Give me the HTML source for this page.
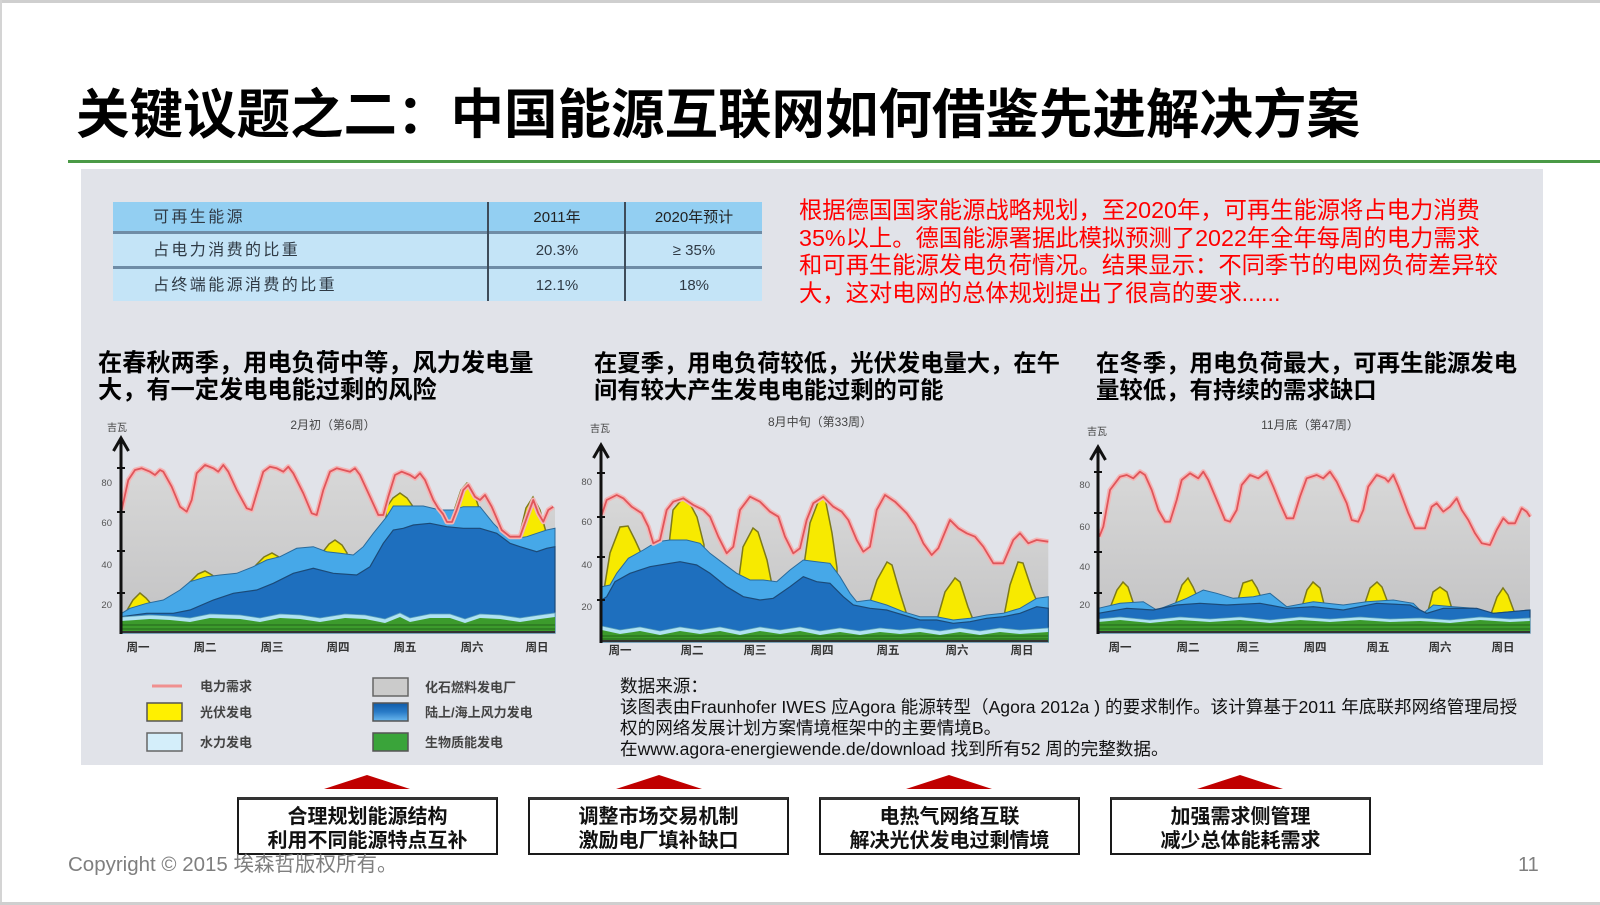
<!DOCTYPE html>
<html><head><meta charset="utf-8">
<style>
*{margin:0;padding:0;box-sizing:border-box}
body{width:1600px;height:905px;position:relative;overflow:hidden;background:#fff;font-family:"Liberation Sans","Noto Sans CJK SC",sans-serif}
.a{position:absolute;white-space:nowrap}
.box{position:absolute;top:797px;width:261px;height:58px;background:#fff;border:2px solid #1a1a1a;border-top:3px solid #333;text-align:center;font-weight:bold;font-size:20px;line-height:24px;color:#111;padding-top:5px}
.tri{position:absolute;top:775px;width:0;height:0;border-left:43px solid transparent;border-right:43px solid transparent;border-bottom:14px solid #c00000}
</style></head><body>
<div class="a" style="left:0;top:0;width:1600px;height:3px;background:#cfcfcf"></div>
<div class="a" style="left:0;top:0;width:2px;height:905px;background:#d4d4d4"></div>
<div class="a" style="left:0;top:902px;width:1600px;height:3px;background:#cfcfcf"></div>

<div class="a" style="left:76px;top:86px;font-size:53.5px;line-height:60px;font-weight:bold;color:#000">关键议题之二：中国能源互联网如何借鉴先进解决方案</div>
<div class="a" style="left:68px;top:160px;width:1532px;height:3px;background:#4a9a46"></div>

<div class="a" style="left:81px;top:169px;width:1462px;height:596px;background:#e1e3e9"></div>

<!-- table -->
<div class="a" style="left:113px;top:202px;width:649px;height:99px;background:#c4e4f7"></div>
<div class="a" style="left:113px;top:202px;width:649px;height:30px;background:#93cff2"></div>
<div class="a" style="left:113px;top:231px;width:649px;height:3px;background:#6f8ca6"></div>
<div class="a" style="left:113px;top:266px;width:649px;height:3px;background:#6f8ca6"></div>
<div class="a" style="left:487px;top:202px;width:2px;height:99px;background:#3e4c5a"></div>
<div class="a" style="left:624px;top:202px;width:2px;height:99px;background:#3e4c5a"></div>
<div class="a" style="left:153px;top:207px;font-size:16px;line-height:22px;color:#2f3a45;letter-spacing:2.4px">可再生能源</div>
<div class="a" style="left:153px;top:240px;font-size:16px;line-height:22px;color:#2f3a45;letter-spacing:2.4px">占电力消费的比重</div>
<div class="a" style="left:153px;top:275px;font-size:16px;line-height:22px;color:#2f3a45;letter-spacing:2.4px">占终端能源消费的比重</div>
<div class="a" style="left:489px;top:207px;width:136px;text-align:center;font-size:15px;line-height:22px;color:#222">2011年</div>
<div class="a" style="left:626px;top:207px;width:136px;text-align:center;font-size:15px;line-height:22px;color:#222">2020年预计</div>
<div class="a" style="left:489px;top:240px;width:136px;text-align:center;font-size:15px;line-height:22px;color:#2f3a45">20.3%</div>
<div class="a" style="left:626px;top:240px;width:136px;text-align:center;font-size:15px;line-height:22px;color:#2f3a45">≥ 35%</div>
<div class="a" style="left:489px;top:275px;width:136px;text-align:center;font-size:15px;line-height:22px;color:#2f3a45">12.1%</div>
<div class="a" style="left:626px;top:275px;width:136px;text-align:center;font-size:15px;line-height:22px;color:#2f3a45">18%</div>

<!-- red text -->
<div class="a" style="left:799px;top:197px;font-size:23.3px;line-height:27.7px;color:#f00">根据德国国家能源战略规划，至2020年，可再生能源将占电力消费<br>35%以上。德国能源署据此模拟预测了2022年全年每周的电力需求<br>和可再生能源发电负荷情况。结果显示：不同季节的电网负荷差异较<br>大，这对电网的总体规划提出了很高的要求......</div>

<!-- headings -->
<div class="a" style="left:98px;top:350px;font-size:24.2px;line-height:27px;font-weight:bold;color:#000">在春秋两季，用电负荷中等，风力发电量<br>大，有一定发电电能过剩的风险</div>
<div class="a" style="left:594px;top:350px;font-size:23.3px;line-height:27px;font-weight:bold;color:#000">在夏季，用电负荷较低，光伏发电量大，在午<br>间有较大产生发电电能过剩的可能</div>
<div class="a" style="left:1096px;top:350px;font-size:23.4px;line-height:27px;font-weight:bold;color:#000">在冬季，用电负荷最大，可再生能源发电<br>量较低，有持续的需求缺口</div>

<svg class="a" style="left:0;top:0" width="1600" height="905" viewBox="0 0 1600 905">
<defs>
<linearGradient id="gg" x1="0" y1="0" x2="0" y2="1"><stop offset="0" stop-color="#d8d8d8"/><stop offset="1" stop-color="#c2c2c3"/></linearGradient>
<linearGradient id="wb" x1="0" y1="0" x2="0" y2="1"><stop offset="0" stop-color="#0f5aa8"/><stop offset="0.5" stop-color="#2a7cc8"/><stop offset="1" stop-color="#6ab8ee"/></linearGradient>
</defs>
<g font-family="Liberation Sans, Noto Sans CJK SC, sans-serif">
<!-- ===== Chart 1 ===== -->
<polygon fill="url(#gg)" points="121.7,510 128.3,480 135,470 141.7,468.3 150,471.7 155,475 160,470 163.3,471.7 171.7,486.7 180,506.7 186.7,511.7 191.7,500 196.7,473.3 205,465 213.3,468.3 218.3,471.7 223.3,465 228.3,471.7 236.7,490 246.7,508.3 251.7,510 256.7,493.3 263.3,471.7 270,466.7 276.7,468.3 283.3,471.7 288.3,466.7 293.3,473.3 303.3,493.3 311.7,513.3 316.7,515 323.3,490 330,471.7 336.7,468.3 343.3,470 350,471.7 355,468.3 360,475 370,496.7 378.3,515 383.3,515 388.3,496.7 395,475 401.7,471.7 410,475 415,478.3 420,473.3 425,480 433.3,500 438.3,508.3 443,514 447,522 452,522 456.7,510 463.3,490 468.3,485 475,496.7 480,500 485,495 491.7,506.7 501.7,530 510,536.7 520,536.7 528.3,513.3 533.3,500 538.3,513.3 543.3,521.7 548.3,510 553.3,506.7 555,507 555,633 121.7,633"/>
<g fill="#f7ea00" stroke="#7d7a1a" stroke-width="1.5">
<polygon points="126,612 133,600 140,593 146,598 153,606 153,625 126,625"/>
<polygon points="190,582 198,574 205,571 212,575 218,580 218,600 190,600"/>
<polygon points="256,565 264,557 272,553 279,557 284,562 284,590 256,590"/>
<polygon points="322,553 329,544 335,540 342,545 347,553 347,580 322,580"/>
<polygon points="386,508 393,498 400,493 407,498 414,508 414,530 386,530"/>
<polygon points="455,508 461,490 467,483 473,490 479,508 479,530 455,530"/>
<polygon points="519,537 526,508 533,497 540,510 546,532 546,555 519,555"/>
</g>
<polygon fill="#46a8e8" stroke="#2a6a9a" stroke-width="1" points="121.7,613.3 130,608.3 146.7,603.3 163.3,600 180,590 190,581.7 206.7,576.7 220,575 236.7,573.3 253.3,566.7 266.7,560 280,556.7 296.7,548.3 313.3,546.7 326.7,551.7 340,553.3 353.3,555 363.3,546.7 373.3,533.3 386.7,516.7 393.3,506 406.7,506 423.3,506 440,510 453.3,510 463.3,506.7 480,506.7 493.3,523.3 503.3,533.3 516.7,538.3 526.7,536.7 536.7,533.3 546.7,530 555,528.3 555,633 121.7,633"/>
<polygon fill="#1e6fbe" stroke="#1b4a78" stroke-width="1.2" points="121.7,616.7 146.7,613.3 173.3,613.3 190,610 213.3,600 233.3,593.3 256.7,590 273.3,583.3 293.3,573.3 313.3,568.3 333.3,573.3 356.7,575 370,566.7 383.3,543.3 393.3,530 403.3,528.3 413.3,525 430,523.3 446.7,526.7 463.3,528.3 480,528.3 496.7,533.3 510,543.3 520,546.7 536.7,551.7 546.7,548.3 555,546.7 555,633 121.7,633"/>
<polygon fill="#b0e2f2" stroke="#5aa0b8" stroke-width="0.8" points="121.7,617 150,615 170,616 190,618 210,614 240,615 260,618 280,614 300,615 320,618 345,614 365,615 385,619 400,613 410,618 430,614 450,614 465,619 480,614 500,615 520,618 540,615 555,613 555,633 121.7,633"/>
<polygon fill="#3c9b2c" points="121.7,621 150,619 170,620 190,622 210,618 240,619 260,622 280,618 300,619 320,622 345,618 365,619 385,623 400,617 410,622 430,618 450,618 465,623 480,618 500,619 520,622 540,619 555,617 555,633 121.7,633"/>
<g stroke="#24661b" stroke-width="1"><line x1="122" y1="625" x2="555" y2="625"/><line x1="122" y1="629" x2="555" y2="629"/></g>
<polyline fill="none" stroke="#f4b5b5" stroke-width="5" stroke-linejoin="round" points="121.7,510 128.3,480 135,470 141.7,468.3 150,471.7 155,475 160,470 163.3,471.7 171.7,486.7 180,506.7 186.7,511.7 191.7,500 196.7,473.3 205,465 213.3,468.3 218.3,471.7 223.3,465 228.3,471.7 236.7,490 246.7,508.3 251.7,510 256.7,493.3 263.3,471.7 270,466.7 276.7,468.3 283.3,471.7 288.3,466.7 293.3,473.3 303.3,493.3 311.7,513.3 316.7,515 323.3,490 330,471.7 336.7,468.3 343.3,470 350,471.7 355,468.3 360,475 370,496.7 378.3,515 383.3,515 388.3,496.7 395,475 401.7,471.7 410,475 415,478.3 420,473.3 425,480 433.3,500 438.3,508.3 443,514 447,522 452,522 456.7,510 463.3,490 468.3,485 475,496.7 480,500 485,495 491.7,506.7 501.7,530 510,536.7 520,536.7 528.3,513.3 533.3,500 538.3,513.3 543.3,521.7 548.3,510 553.3,506.7"/>
<polyline fill="none" stroke="#e0555a" stroke-width="1.8" stroke-linejoin="round" points="121.7,510 128.3,480 135,470 141.7,468.3 150,471.7 155,475 160,470 163.3,471.7 171.7,486.7 180,506.7 186.7,511.7 191.7,500 196.7,473.3 205,465 213.3,468.3 218.3,471.7 223.3,465 228.3,471.7 236.7,490 246.7,508.3 251.7,510 256.7,493.3 263.3,471.7 270,466.7 276.7,468.3 283.3,471.7 288.3,466.7 293.3,473.3 303.3,493.3 311.7,513.3 316.7,515 323.3,490 330,471.7 336.7,468.3 343.3,470 350,471.7 355,468.3 360,475 370,496.7 378.3,515 383.3,515 388.3,496.7 395,475 401.7,471.7 410,475 415,478.3 420,473.3 425,480 433.3,500 438.3,508.3 443,514 447,522 452,522 456.7,510 463.3,490 468.3,485 475,496.7 480,500 485,495 491.7,506.7 501.7,530 510,536.7 520,536.7 528.3,513.3 533.3,500 538.3,513.3 543.3,521.7 548.3,510 553.3,506.7"/>
<line x1="121" y1="632" x2="555" y2="632" stroke="#333" stroke-width="2"/>
<line x1="121" y1="634" x2="121" y2="440" stroke="#111" stroke-width="3"/>
<polyline points="113.5,451 121,438 128.5,451" fill="none" stroke="#111" stroke-width="3"/>
<g stroke="#111" stroke-width="2"><line x1="117" y1="468" x2="125" y2="468"/><line x1="117" y1="512" x2="125" y2="512"/><line x1="117" y1="551" x2="125" y2="551"/><line x1="117" y1="593" x2="125" y2="593"/></g>
<g font-size="9.5" fill="#555" text-anchor="end"><text x="112" y="486">80</text><text x="112" y="526">60</text><text x="112" y="568">40</text><text x="112" y="608">20</text></g>
<text x="107" y="431" font-size="10" fill="#444">吉瓦</text>
<text x="333" y="429" font-size="12" fill="#444" text-anchor="middle">2月初（第6周）</text>
<g font-size="11.5" fill="#333" text-anchor="middle" font-weight="bold"><text x="138" y="651">周一</text><text x="205" y="651">周二</text><text x="272" y="651">周三</text><text x="338" y="651">周四</text><text x="405" y="651">周五</text><text x="472" y="651">周六</text><text x="537" y="651">周日</text></g>

<!-- ===== Chart 2 ===== -->
<polygon fill="url(#gg)" points="601.7,515 606.7,500 616.7,495 623.3,498.3 631.7,506.7 641.7,513.3 648.3,526.7 653.3,543.3 660,540 666.7,510 673.3,501.7 683.3,498.3 693.3,505 703.3,510 710,516.7 718.3,536.7 726.7,553.3 733.3,546.7 740,510 750,496.7 760,501.7 770,511.7 778.3,516.7 785,536.7 793.3,553.3 800,548.3 806.7,520 813.3,503.3 823.3,496.7 833.3,506.7 841.7,511.7 848.3,520 856.7,540 863.3,551.7 870,546.7 876.7,510 885,495 895,501.7 906.7,513.3 915,525 923.3,543.3 931.7,555 938.3,548.3 950,520 958.3,528.3 966.7,533.3 975,536.7 983.3,546.7 993.3,563.3 1003.3,563.3 1013.3,540 1020,533.3 1028.3,543.3 1036.7,540 1048.3,541.7 1048.3,642 601.7,642"/>
<g fill="#f7ea00" stroke="#7d7a1a" stroke-width="1.5">
<polygon points="604,590 610,553 620,527 628,526 635,540 641,553 641,600 604,600"/>
<polygon points="669,545 673,510 683,498 688,500 697,517 704,545 704,570 669,570"/>
<polygon points="738,585 743,547 753,528 758,532 767,560 772,585 772,600 738,600"/>
<polygon points="804,565 810,523 820,497 825,498 832,533 837,568 837,590 804,590"/>
<polygon points="869,605 877,580 887,562 892,565 900,593 906,612 906,625 869,625"/>
<polygon points="937,620 945,592 955,578 960,582 968,607 974,622 974,635 937,635"/>
<polygon points="1004,616 1010,585 1018,562 1023,563 1032,590 1039,606 1039,625 1004,625"/>
</g>
<polygon fill="#46a8e8" stroke="#2a6a9a" stroke-width="1" points="601.7,586.7 610,585 616.7,573.3 628.3,558.3 643.3,550 656.7,541.7 670,540 686.7,540 700,543.3 710,553.3 723.3,563.3 736.7,573.3 750,580 763.3,580 776.7,581.7 790,570 803.3,560 816.7,561.7 830,563.3 840,576.7 850,593.3 856.7,601.7 870,600 886.7,605 903.3,611.7 920,616.7 936.7,616.7 953.3,620 970,618.3 986.7,615 1003.3,613.3 1020,608.3 1036.7,598.3 1048.3,596.7 1048.3,642 601.7,642"/>
<polygon fill="#1e6fbe" stroke="#1b4a78" stroke-width="1.2" points="601.7,600 606.7,596.7 615,581.7 630,573.3 650,566.7 670,563.3 680,561.7 696.7,565 710,573.3 726.7,586.7 743.3,596.7 760,600 773.3,598.3 790,586.7 803.3,576.7 816.7,581.7 830,583.3 843.3,596.7 853.3,605 870,608.3 886.7,610 903.3,615 920,620 936.7,620 953.3,623.3 970,621.7 986.7,618.3 1003.3,616.7 1020,613.3 1036.7,606.7 1048.3,608.3 1048.3,642 601.7,642"/>
<polygon fill="#b0e2f2" stroke="#5aa0b8" stroke-width="0.8" points="601.7,626 620,630 640,627 660,631 680,627 700,630 720,627 740,631 760,627 780,630 800,627 820,631 840,628 860,631 880,628 900,630 920,628 940,631 960,628 980,631 1000,628 1020,630 1048.3,628 1048.3,642 601.7,642"/>
<polygon fill="#3c9b2c" points="601.7,630 620,634 640,631 660,635 680,631 700,634 720,631 740,635 760,631 780,634 800,631 820,635 840,632 860,635 880,632 900,634 920,632 940,635 960,632 980,635 1000,632 1020,634 1048.3,632 1048.3,642 601.7,642"/>
<g stroke="#24661b" stroke-width="1"><line x1="602" y1="636" x2="1048" y2="636"/><line x1="602" y1="639" x2="1048" y2="639"/></g>
<polyline fill="none" stroke="#f4b5b5" stroke-width="5" stroke-linejoin="round" points="601.7,515 606.7,500 616.7,495 623.3,498.3 631.7,506.7 641.7,513.3 648.3,526.7 653.3,543.3 660,540 666.7,510 673.3,501.7 683.3,498.3 693.3,505 703.3,510 710,516.7 718.3,536.7 726.7,553.3 733.3,546.7 740,510 750,496.7 760,501.7 770,511.7 778.3,516.7 785,536.7 793.3,553.3 800,548.3 806.7,520 813.3,503.3 823.3,496.7 833.3,506.7 841.7,511.7 848.3,520 856.7,540 863.3,551.7 870,546.7 876.7,510 885,495 895,501.7 906.7,513.3 915,525 923.3,543.3 931.7,555 938.3,548.3 950,520 958.3,528.3 966.7,533.3 975,536.7 983.3,546.7 993.3,563.3 1003.3,563.3 1013.3,540 1020,533.3 1028.3,543.3 1036.7,540 1048.3,541.7"/>
<polyline fill="none" stroke="#e0555a" stroke-width="1.8" stroke-linejoin="round" points="601.7,515 606.7,500 616.7,495 623.3,498.3 631.7,506.7 641.7,513.3 648.3,526.7 653.3,543.3 660,540 666.7,510 673.3,501.7 683.3,498.3 693.3,505 703.3,510 710,516.7 718.3,536.7 726.7,553.3 733.3,546.7 740,510 750,496.7 760,501.7 770,511.7 778.3,516.7 785,536.7 793.3,553.3 800,548.3 806.7,520 813.3,503.3 823.3,496.7 833.3,506.7 841.7,511.7 848.3,520 856.7,540 863.3,551.7 870,546.7 876.7,510 885,495 895,501.7 906.7,513.3 915,525 923.3,543.3 931.7,555 938.3,548.3 950,520 958.3,528.3 966.7,533.3 975,536.7 983.3,546.7 993.3,563.3 1003.3,563.3 1013.3,540 1020,533.3 1028.3,543.3 1036.7,540 1048.3,541.7"/>
<line x1="601" y1="641" x2="1048" y2="641" stroke="#333" stroke-width="2"/>
<line x1="601" y1="643" x2="601" y2="447" stroke="#111" stroke-width="3"/>
<polyline points="593.5,458 601,445 608.5,458" fill="none" stroke="#111" stroke-width="3"/>
<g stroke="#111" stroke-width="2"><line x1="597" y1="473" x2="605" y2="473"/><line x1="597" y1="517" x2="605" y2="517"/><line x1="597" y1="557" x2="605" y2="557"/><line x1="597" y1="600" x2="605" y2="600"/></g>
<g font-size="9.5" fill="#555" text-anchor="end"><text x="592" y="485">80</text><text x="592" y="525">60</text><text x="592" y="568">40</text><text x="592" y="610">20</text></g>
<text x="590" y="432" font-size="10" fill="#444">吉瓦</text>
<text x="820" y="426" font-size="12" fill="#444" text-anchor="middle">8月中旬（第33周）</text>
<g font-size="11.5" fill="#333" text-anchor="middle" font-weight="bold"><text x="620" y="654">周一</text><text x="692" y="654">周二</text><text x="755" y="654">周三</text><text x="822" y="654">周四</text><text x="888" y="654">周五</text><text x="957" y="654">周六</text><text x="1022" y="654">周日</text></g>

<!-- ===== Chart 3 ===== -->
<polygon fill="url(#gg)" points="1098.3,538 1099.3,536.7 1103.3,526.7 1110,490 1120,476.7 1126.7,475 1133.3,478.3 1140,471.7 1145,475 1151.7,490 1158.3,510 1165,521.7 1170,521.7 1176.7,500 1181.7,480 1190,473.3 1198.3,478.3 1203.3,471.7 1208.3,480 1216.7,500 1225,520 1230,521.7 1236.7,510 1241.7,485 1250,475 1258.3,478.3 1266.7,471.7 1273.3,486.7 1280,503.3 1286.7,518.3 1293.3,518.3 1300,496.7 1306.7,478.3 1316.7,475 1323.3,478.3 1330,471.7 1336.7,481.7 1346.7,503.3 1351.7,520 1358.3,521.7 1363.3,510 1368.3,486.7 1376.7,475 1385,478.3 1388.3,481.7 1393.3,475 1398.3,486.7 1408.3,513.3 1415,528.3 1425,528.3 1431.7,506.7 1436.7,503.3 1443.3,511.7 1450,506.7 1456.7,498.3 1461.7,510 1468.3,520 1475,533.3 1481.7,543.3 1490,545 1496.7,530 1503.3,518.3 1508.3,523.3 1515,523.3 1521.7,508.3 1526.7,511.7 1530,516.7 1530,633 1098.3,633"/>
<g fill="#f7ea00" stroke="#7d7a1a" stroke-width="1.5">
<polygon points="1110,608 1117,590 1123,582 1128,587 1135,608 1135,620 1110,620"/>
<polygon points="1175,605 1182,585 1188,578 1193,587 1200,603 1200,615 1175,615"/>
<polygon points="1238,600 1243,583 1252,580 1257,588 1262,600 1262,612 1238,612"/>
<polygon points="1301,610 1307,590 1313,582 1320,588 1325,608 1325,620 1301,620"/>
<polygon points="1365,603 1370,588 1377,582 1382,587 1388,603 1388,615 1365,615"/>
<polygon points="1428,611 1433,592 1440,587 1447,592 1452,609 1452,620 1428,620"/>
<polygon points="1491,614 1497,597 1503,588 1508,595 1515,614 1515,622 1491,622"/>
</g>
<polygon fill="#46a8e8" stroke="#2a6a9a" stroke-width="1" points="1098.3,608.3 1120,603.3 1143.3,601.7 1156.7,610 1170,605 1186.7,598.3 1203.3,590 1216.7,593.3 1233.3,598.3 1253.3,596.7 1270,593.3 1286.7,606.7 1313.3,601.7 1343.3,605 1366.7,601.7 1393.3,600 1413.3,603.3 1423.3,613.3 1433.3,605 1453.3,606.7 1473.3,608.3 1493.3,613.3 1530,610 1530,633 1098.3,633"/>
<polygon fill="#1e6fbe" stroke="#1b4a78" stroke-width="1.2" points="1098.3,613.3 1126.7,608.3 1153.3,610 1176.7,605 1200,603.3 1226.7,605 1260,603.3 1286.7,608.3 1313.3,606.7 1343.3,610 1376.7,603.3 1410,605 1426.7,613.3 1443.3,608.3 1476.7,608.3 1493.3,613.3 1530,610 1530,633 1098.3,633"/>
<polygon fill="#b0e2f2" stroke="#5aa0b8" stroke-width="0.8" points="1098.3,619 1120,617 1150,620 1180,617 1210,619 1240,617 1270,620 1300,617 1330,619 1360,617 1390,619 1420,618 1450,620 1480,617 1510,619 1530,618 1530,633 1098.3,633"/>
<polygon fill="#3c9b2c" points="1098.3,622 1120,620 1150,623 1180,620 1210,622 1240,620 1270,623 1300,620 1330,622 1360,620 1390,622 1420,621 1450,623 1480,620 1510,622 1530,621 1530,633 1098.3,633"/>
<g stroke="#24661b" stroke-width="1"><line x1="1099" y1="625" x2="1530" y2="625"/><line x1="1099" y1="629" x2="1530" y2="629"/></g>
<polyline fill="none" stroke="#f4b5b5" stroke-width="5" stroke-linejoin="round" points="1099.3,536.7 1103.3,526.7 1110,490 1120,476.7 1126.7,475 1133.3,478.3 1140,471.7 1145,475 1151.7,490 1158.3,510 1165,521.7 1170,521.7 1176.7,500 1181.7,480 1190,473.3 1198.3,478.3 1203.3,471.7 1208.3,480 1216.7,500 1225,520 1230,521.7 1236.7,510 1241.7,485 1250,475 1258.3,478.3 1266.7,471.7 1273.3,486.7 1280,503.3 1286.7,518.3 1293.3,518.3 1300,496.7 1306.7,478.3 1316.7,475 1323.3,478.3 1330,471.7 1336.7,481.7 1346.7,503.3 1351.7,520 1358.3,521.7 1363.3,510 1368.3,486.7 1376.7,475 1385,478.3 1388.3,481.7 1393.3,475 1398.3,486.7 1408.3,513.3 1415,528.3 1425,528.3 1431.7,506.7 1436.7,503.3 1443.3,511.7 1450,506.7 1456.7,498.3 1461.7,510 1468.3,520 1475,533.3 1481.7,543.3 1490,545 1496.7,530 1503.3,518.3 1508.3,523.3 1515,523.3 1521.7,508.3 1526.7,511.7 1530,516.7"/>
<polyline fill="none" stroke="#e0555a" stroke-width="1.8" stroke-linejoin="round" points="1099.3,536.7 1103.3,526.7 1110,490 1120,476.7 1126.7,475 1133.3,478.3 1140,471.7 1145,475 1151.7,490 1158.3,510 1165,521.7 1170,521.7 1176.7,500 1181.7,480 1190,473.3 1198.3,478.3 1203.3,471.7 1208.3,480 1216.7,500 1225,520 1230,521.7 1236.7,510 1241.7,485 1250,475 1258.3,478.3 1266.7,471.7 1273.3,486.7 1280,503.3 1286.7,518.3 1293.3,518.3 1300,496.7 1306.7,478.3 1316.7,475 1323.3,478.3 1330,471.7 1336.7,481.7 1346.7,503.3 1351.7,520 1358.3,521.7 1363.3,510 1368.3,486.7 1376.7,475 1385,478.3 1388.3,481.7 1393.3,475 1398.3,486.7 1408.3,513.3 1415,528.3 1425,528.3 1431.7,506.7 1436.7,503.3 1443.3,511.7 1450,506.7 1456.7,498.3 1461.7,510 1468.3,520 1475,533.3 1481.7,543.3 1490,545 1496.7,530 1503.3,518.3 1508.3,523.3 1515,523.3 1521.7,508.3 1526.7,511.7 1530,516.7"/>
<line x1="1098" y1="632" x2="1530" y2="632" stroke="#333" stroke-width="2"/>
<line x1="1098" y1="634" x2="1098" y2="449" stroke="#111" stroke-width="3"/>
<polyline points="1090.5,460 1098,447 1105.5,460" fill="none" stroke="#111" stroke-width="3"/>
<g stroke="#111" stroke-width="2"><line x1="1094" y1="472" x2="1102" y2="472"/><line x1="1094" y1="513" x2="1102" y2="513"/><line x1="1094" y1="552" x2="1102" y2="552"/><line x1="1094" y1="593" x2="1102" y2="593"/></g>
<g font-size="9.5" fill="#555" text-anchor="end"><text x="1090" y="488">80</text><text x="1090" y="530">60</text><text x="1090" y="570">40</text><text x="1090" y="608">20</text></g>
<text x="1087" y="435" font-size="10" fill="#444">吉瓦</text>
<text x="1310" y="429" font-size="12" fill="#444" text-anchor="middle">11月底（第47周）</text>
<g font-size="11.5" fill="#333" text-anchor="middle" font-weight="bold"><text x="1120" y="651">周一</text><text x="1188" y="651">周二</text><text x="1248" y="651">周三</text><text x="1315" y="651">周四</text><text x="1378" y="651">周五</text><text x="1440" y="651">周六</text><text x="1503" y="651">周日</text></g>

<!-- legend -->
<line x1="152" y1="686" x2="182" y2="686" stroke="#f09090" stroke-width="3"/>
<rect x="147" y="703" width="35" height="18" fill="#fff000" stroke="#555" stroke-width="1.5"/>
<rect x="147" y="733" width="35" height="18" fill="#d4eefa" stroke="#666" stroke-width="1.5"/>
<rect x="373" y="678" width="35" height="18" fill="#cbcbcb" stroke="#666" stroke-width="1.5"/>
<rect x="373" y="703" width="35" height="18" fill="url(#wb)" stroke="#555" stroke-width="1.5"/>
<rect x="373" y="733" width="35" height="18" fill="#3aa43a" stroke="#555" stroke-width="1.5"/>
<g font-size="13" fill="#444" font-weight="bold">
<text x="200" y="691">电力需求</text><text x="200" y="717">光伏发电</text><text x="200" y="747">水力发电</text>
<text x="425" y="692">化石燃料发电厂</text><text x="425" y="717">陆上/海上风力发电</text><text x="425" y="747">生物质能发电</text>
</g>
</g>
</svg>

<!-- data source -->
<div class="a" style="left:620px;top:676px;font-size:17.6px;line-height:20.9px;color:#111">数据来源：<br>该图表由Fraunhofer IWES 应Agora 能源转型（Agora 2012a ) 的要求制作。该计算基于2011 年底联邦网络管理局授<br>权的网络发展计划方案情境框架中的主要情境B。<br>在www.agora-energiewende.de/download 找到所有52 周的完整数据。</div>

<!-- triangles and boxes -->
<div class="tri" style="left:324px"></div>
<div class="tri" style="left:616px"></div>
<div class="tri" style="left:906px"></div>
<div class="tri" style="left:1197px"></div>
<div class="box" style="left:237px">合理规划能源结构<br>利用不同能源特点互补</div>
<div class="box" style="left:528px">调整市场交易机制<br>激励电厂填补缺口</div>
<div class="box" style="left:819px">电热气网络互联<br>解决光伏发电过剩情境</div>
<div class="box" style="left:1110px">加强需求侧管理<br>减少总体能耗需求</div>

<div class="a" style="left:68px;top:852px;font-size:20.5px;line-height:26px;color:#7f7f7f">Copyright © 2015 埃森哲版权所有。</div>
<div class="a" style="left:1518px;top:852px;font-size:20px;line-height:26px;color:#7f7f7f">11</div>
</body></html>
